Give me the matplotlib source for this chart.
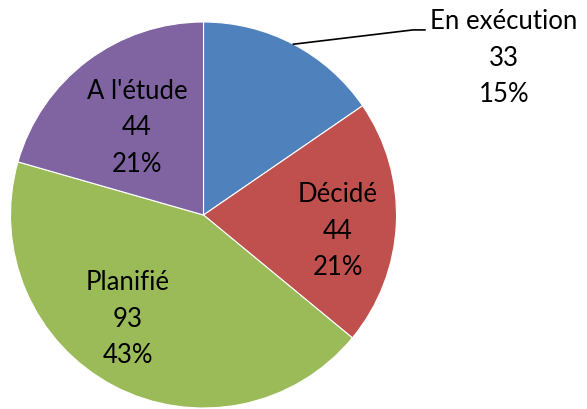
import numpy as np
import matplotlib
matplotlib.use("Agg")
import matplotlib.pyplot as plt

# Data
labels = ["En exécution", "Décidé", "Planifié", "A l'étude"]
values = [33, 44, 93, 44]
colors = ["#4F81BD", "#C0504D", "#9BBB59", "#8064A2"]

# label block centres (in radius units, relative to pie centre)
label_pos = [(1.557, 0.813), (0.697, -0.083), (-0.391, -0.539), (-0.345, 0.451)]

plt.rcParams['font.family'] = ['Lato', 'DejaVu Sans']

fig = plt.figure(figsize=(5.87, 4.09), dpi=100)
ax = fig.add_axes([0.0179, 0.0024, 0.6576, 0.9438])

wedges, _ = ax.pie(values, colors=colors, startangle=90, counterclock=False,
                   radius=1.0, wedgeprops=dict(edgecolor='white', linewidth=0.8))

total = sum(values)
for lab, val, (x, y) in zip(labels, values, label_pos):
    pct = round(100 * val / total)
    ax.text(x, y, f"{lab}\n{val}\n{pct}%", ha='center', va='center',
            multialignment='center', fontsize=18.5, linespacing=1.58,
            clip_on=False)

# leader line for the first slice
w = wedges[0]
mid = np.deg2rad((w.theta1 + w.theta2) / 2)
x0, y0 = np.cos(mid), np.sin(mid)
ax.plot([x0, 1.085, 1.147], [y0, 0.959, 0.959], color='black', lw=1.2,
        clip_on=False)

ax.set_xlim(-1, 1)
ax.set_ylim(-1, 1)
ax.axis('off')

fig.savefig("out.png", dpi=100)
